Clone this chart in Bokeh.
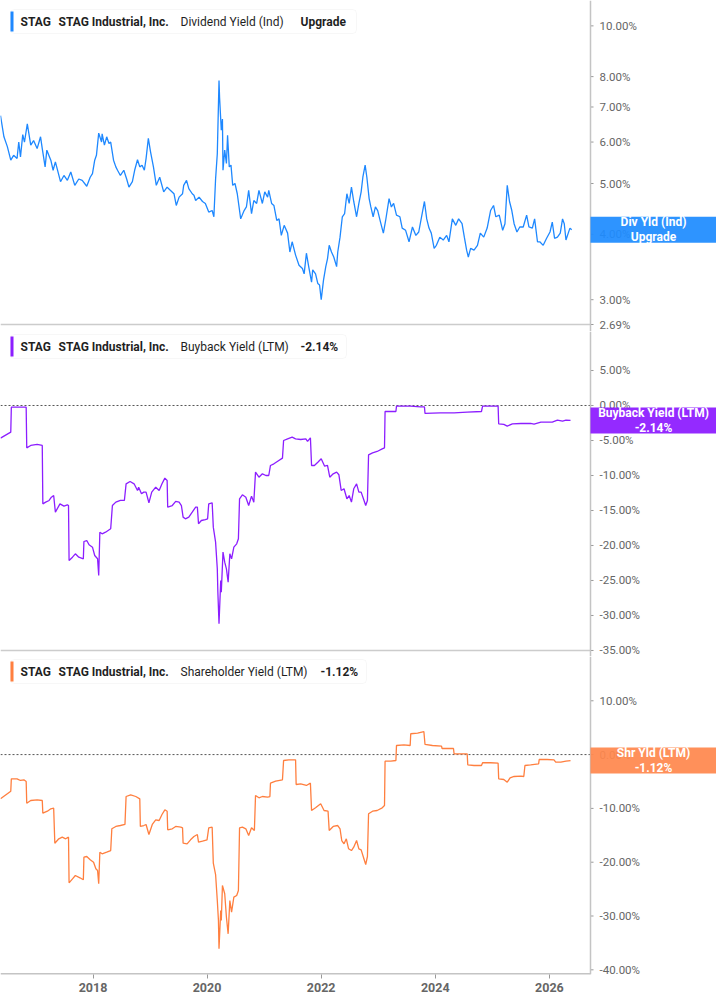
import math
from datetime import datetime, timedelta

from bokeh.core.properties import value
from bokeh.embed import file_html
from bokeh.layouts import column
from bokeh.models import (BoxAnnotation, DatetimeTickFormatter, FixedTicker, Label,
                          Range1d, Span)
from bokeh.plotting import figure
from bokeh.resources import INLINE

# --- data (decimal years, values in %) ---------------------------------------
div_years = [
    2016.38, 2016.44, 2016.50, 2016.56, 2016.61, 2016.67, 2016.70, 2016.73, 2016.77, 2016.80,
    2016.85, 2016.91, 2016.96, 2017.02, 2017.08, 2017.11, 2017.16, 2017.19, 2017.26, 2017.30,
    2017.34, 2017.43, 2017.49, 2017.55, 2017.61, 2017.68, 2017.75, 2017.81, 2017.89, 2017.95,
    2017.99, 2018.03, 2018.06, 2018.10, 2018.15, 2018.16, 2018.20, 2018.24, 2018.28, 2018.31,
    2018.36, 2018.40, 2018.43, 2018.48, 2018.54, 2018.59, 2018.63, 2018.69, 2018.73, 2018.78,
    2018.82, 2018.86, 2018.90, 2018.93, 2018.97, 2019.01, 2019.06, 2019.11, 2019.17, 2019.24,
    2019.30, 2019.36, 2019.42, 2019.46, 2019.51, 2019.57, 2019.59, 2019.64, 2019.68, 2019.74,
    2019.77, 2019.80, 2019.86, 2019.92, 2019.97, 2020.03, 2020.09, 2020.12, 2020.15, 2020.18,
    2020.21, 2020.22, 2020.25, 2020.27, 2020.28, 2020.31, 2020.34, 2020.36, 2020.39, 2020.42,
    2020.45, 2020.49, 2020.53, 2020.59, 2020.65, 2020.69, 2020.73, 2020.78, 2020.82, 2020.87,
    2020.91, 2020.97, 2021.01, 2021.06, 2021.08, 2021.13, 2021.17, 2021.22, 2021.26, 2021.30,
    2021.35, 2021.41, 2021.45, 2021.49, 2021.55, 2021.61, 2021.67, 2021.70, 2021.74, 2021.78,
    2021.83, 2021.85, 2021.90, 2021.94, 2021.97, 2022.00, 2022.04, 2022.08, 2022.11, 2022.14,
    2022.18, 2022.22, 2022.27, 2022.29, 2022.33, 2022.37, 2022.41, 2022.45, 2022.49, 2022.53,
    2022.57, 2022.62, 2022.66, 2022.70, 2022.73, 2022.77, 2022.80, 2022.84, 2022.87, 2022.91,
    2022.95, 2022.99, 2023.04, 2023.09, 2023.13, 2023.19, 2023.23, 2023.27, 2023.32, 2023.38,
    2023.42, 2023.48, 2023.54, 2023.60, 2023.66, 2023.71, 2023.77, 2023.81, 2023.85, 2023.89,
    2023.93, 2023.98, 2024.02, 2024.08, 2024.14, 2024.20, 2024.24, 2024.30, 2024.36, 2024.41,
    2024.47, 2024.51, 2024.55, 2024.58, 2024.62, 2024.68, 2024.74, 2024.79, 2024.85, 2024.91,
    2024.97, 2025.02, 2025.06, 2025.12, 2025.18, 2025.22, 2025.26, 2025.30, 2025.34, 2025.38,
    2025.43, 2025.48, 2025.54, 2025.60, 2025.64, 2025.70, 2025.74, 2025.79, 2025.83, 2025.89,
    2025.95, 2026.01, 2026.05, 2026.09, 2026.14, 2026.19, 2026.23, 2026.26, 2026.29, 2026.33,
    2026.36, 2026.39]
div_vals = [
    6.74, 6.14, 5.88, 5.54, 5.66, 5.58, 6.00, 5.62, 6.20, 6.00,
    6.50, 5.92, 6.04, 5.83, 6.14, 5.83, 5.38, 5.79, 5.54, 5.30,
    5.50, 5.04, 5.18, 5.07, 5.26, 4.96, 5.10, 5.07, 4.94, 5.14,
    5.22, 5.54, 5.66, 6.24, 6.00, 6.22, 5.92, 6.14, 5.96, 6.00,
    5.54, 5.38, 5.30, 5.18, 5.30, 5.10, 4.92, 5.04, 5.30, 5.55,
    5.38, 5.42, 5.30, 5.58, 6.10, 5.74, 5.38, 4.96, 5.14, 4.82,
    4.92, 4.85, 4.78, 4.54, 4.71, 4.78, 4.96, 5.07, 4.89, 4.78,
    4.75, 4.64, 4.71, 4.62, 4.58, 4.41, 4.44, 4.32, 5.10, 5.70,
    7.86, 7.30, 6.32, 6.64, 5.30, 5.79, 5.46, 6.18, 5.38, 5.42,
    4.96, 5.00, 4.78, 4.28, 4.44, 4.51, 4.85, 4.38, 4.64, 4.58,
    4.85, 4.58, 4.82, 4.71, 4.85, 4.58, 4.54, 4.25, 4.28, 3.98,
    4.16, 4.02, 3.70, 3.87, 3.65, 3.49, 3.44, 3.36, 3.68, 3.47,
    3.24, 3.42, 3.36, 3.22, 3.20, 3.00, 3.27, 3.47, 3.59, 3.81,
    3.70, 3.62, 3.47, 3.70, 3.95, 4.32, 4.38, 4.78, 4.58, 4.92,
    4.62, 4.32, 4.58, 4.82, 5.14, 5.42, 5.14, 4.68, 4.51, 4.32,
    4.51, 4.44, 4.22, 4.02, 4.25, 4.68, 4.51, 4.58, 4.35, 4.32,
    4.11, 4.07, 3.87, 4.13, 3.98, 4.04, 4.38, 4.62, 4.28, 4.11,
    4.02, 3.76, 3.81, 3.95, 3.90, 3.98, 3.87, 4.28, 4.16, 4.28,
    4.19, 3.95, 3.73, 3.62, 3.76, 3.73, 3.81, 4.02, 3.95, 4.11,
    4.44, 4.54, 4.32, 4.35, 4.07, 4.19, 4.96, 4.62, 4.44, 4.19,
    4.04, 4.13, 4.13, 4.35, 4.13, 4.11, 4.28, 3.87, 3.87, 3.81,
    3.93, 4.04, 4.22, 3.93, 3.95, 4.02, 4.28, 4.19, 3.90, 4.02,
    4.11, 4.08]

bb_years = [
    2016.38, 2016.56, 2016.57, 2016.83, 2016.84, 2016.91, 2017.02, 2017.11, 2017.12, 2017.17,
    2017.23, 2017.27, 2017.31, 2017.34, 2017.42, 2017.49, 2017.55, 2017.57, 2017.58, 2017.64,
    2017.69, 2017.75, 2017.83, 2017.84, 2017.89, 2017.93, 2017.99, 2018.03, 2018.08, 2018.10,
    2018.12, 2018.16, 2018.22, 2018.31, 2018.34, 2018.40, 2018.48, 2018.55, 2018.58, 2018.65,
    2018.72, 2018.78, 2018.80, 2018.85, 2018.89, 2018.93, 2018.98, 2019.03, 2019.10, 2019.16,
    2019.21, 2019.26, 2019.30, 2019.31, 2019.39, 2019.45, 2019.51, 2019.55, 2019.58, 2019.62,
    2019.68, 2019.74, 2019.80, 2019.83, 2019.85, 2019.90, 2019.97, 2020.01, 2020.03, 2020.09,
    2020.11, 2020.15, 2020.18, 2020.19, 2020.21, 2020.24, 2020.25, 2020.28, 2020.31, 2020.34,
    2020.37, 2020.40, 2020.43, 2020.47, 2020.52, 2020.55, 2020.57, 2020.62, 2020.68, 2020.73,
    2020.78, 2020.82, 2020.85, 2020.91, 2020.97, 2021.03, 2021.08, 2021.11, 2021.17, 2021.23,
    2021.32, 2021.34, 2021.41, 2021.49, 2021.55, 2021.64, 2021.73, 2021.76, 2021.81, 2021.83,
    2021.88, 2021.94, 2022.00, 2022.06, 2022.11, 2022.15, 2022.21, 2022.27, 2022.31, 2022.35,
    2022.40, 2022.45, 2022.49, 2022.53, 2022.57, 2022.62, 2022.66, 2022.70, 2022.74, 2022.78,
    2022.81, 2022.83, 2022.90, 2022.98, 2023.07, 2023.11, 2023.12, 2023.22, 2023.31, 2023.32,
    2023.57, 2023.74, 2023.81, 2023.82, 2024.09, 2024.33, 2024.56, 2024.81, 2024.83, 2025.10,
    2025.11, 2025.20, 2025.26, 2025.35, 2025.50, 2025.67, 2025.73, 2025.85, 2026.05, 2026.14,
    2026.23, 2026.29, 2026.37]
bb_vals = [
    -4.67, -3.81, -0.24, -0.24, -6.05, -5.71, -5.57, -5.71, -14.05, -13.80,
    -13.57, -13.10, -12.86, -15.24, -14.05, -14.38, -14.19, -14.29, -22.14, -21.67,
    -21.19, -21.67, -21.90, -19.43, -19.29, -19.90, -20.24, -21.43, -21.90, -24.29,
    -18.10, -18.33, -18.10, -17.62, -14.29, -13.81, -13.57, -13.57, -11.19, -10.86,
    -11.19, -12.14, -11.67, -12.62, -12.38, -12.38, -13.90, -12.38, -11.67, -12.14,
    -11.19, -10.38, -10.71, -14.52, -14.29, -13.71, -13.81, -14.29, -15.95, -16.19,
    -15.95, -15.24, -14.52, -14.52, -16.90, -16.43, -16.29, -16.19, -14.05, -13.90,
    -17.38, -19.52, -23.33, -26.67, -31.19, -25.00, -26.67, -20.95, -22.38, -23.33,
    -25.24, -21.19, -21.90, -20.24, -19.76, -19.05, -13.33, -12.76, -13.10, -14.29,
    -12.95, -13.81, -9.52, -10.24, -9.76, -10.00, -10.00, -8.57, -8.33, -8.00,
    -7.52, -5.00, -4.76, -4.52, -4.76, -4.86, -4.76, -5.14, -4.62, -8.57,
    -8.57, -8.10, -7.62, -8.67, -8.57, -10.24, -9.76, -9.52, -9.90, -12.14,
    -11.90, -13.33, -12.86, -13.81, -11.90, -11.19, -12.38, -12.38, -13.33, -14.29,
    -13.57, -7.05, -6.76, -6.57, -6.19, -6.05, -0.86, -0.86, -0.86, -0.10,
    -0.10, -0.19, -0.19, -1.14, -1.05, -1.05, -0.95, -0.86, -0.10, -0.10,
    -2.62, -2.71, -2.95, -2.62, -2.57, -2.57, -2.67, -2.38, -2.38, -2.10,
    -2.24, -2.10, -2.14]

sh_years = [
    2016.38, 2016.56, 2016.57, 2016.67, 2016.73, 2016.79, 2016.83, 2016.84, 2016.91, 2017.02,
    2017.11, 2017.12, 2017.20, 2017.26, 2017.31, 2017.33, 2017.40, 2017.46, 2017.52, 2017.57,
    2017.58, 2017.64, 2017.69, 2017.77, 2017.83, 2017.84, 2017.89, 2017.95, 2018.01, 2018.05,
    2018.08, 2018.10, 2018.12, 2018.16, 2018.24, 2018.31, 2018.33, 2018.40, 2018.48, 2018.56,
    2018.58, 2018.66, 2018.75, 2018.82, 2018.83, 2018.89, 2018.93, 2018.98, 2019.04, 2019.10,
    2019.16, 2019.21, 2019.26, 2019.30, 2019.31, 2019.39, 2019.45, 2019.54, 2019.57, 2019.58,
    2019.65, 2019.71, 2019.77, 2019.83, 2019.85, 2019.92, 2020.00, 2020.03, 2020.09, 2020.11,
    2020.15, 2020.18, 2020.20, 2020.21, 2020.24, 2020.25, 2020.27, 2020.31, 2020.34, 2020.37,
    2020.40, 2020.43, 2020.47, 2020.52, 2020.55, 2020.57, 2020.62, 2020.68, 2020.73, 2020.78,
    2020.83, 2020.85, 2020.91, 2020.97, 2021.06, 2021.10, 2021.11, 2021.20, 2021.32, 2021.34,
    2021.43, 2021.55, 2021.56, 2021.64, 2021.74, 2021.81, 2021.83, 2021.90, 2021.99, 2022.05,
    2022.12, 2022.14, 2022.21, 2022.29, 2022.33, 2022.36, 2022.40, 2022.44, 2022.48, 2022.53,
    2022.57, 2022.62, 2022.66, 2022.70, 2022.74, 2022.78, 2022.81, 2022.83, 2022.90, 2022.98,
    2023.07, 2023.11, 2023.12, 2023.22, 2023.31, 2023.32, 2023.45, 2023.56, 2023.57, 2023.69,
    2023.80, 2023.82, 2023.95, 2024.11, 2024.12, 2024.32, 2024.33, 2024.56, 2024.57, 2024.68,
    2024.81, 2024.83, 2024.97, 2025.10, 2025.11, 2025.20, 2025.26, 2025.31, 2025.38, 2025.50,
    2025.55, 2025.57, 2025.67, 2025.81, 2025.82, 2025.96, 2026.08, 2026.11, 2026.20, 2026.29,
    2026.37]
sh_vals = [
    -8.22, -6.80, -4.50, -4.50, -4.81, -4.69, -5.00, -9.03, -8.53, -8.40,
    -8.53, -10.89, -10.52, -10.07, -9.96, -16.47, -15.65, -15.35, -15.65, -15.35,
    -23.83, -23.09, -22.47, -22.90, -23.27, -19.07, -18.94, -19.55, -20.00, -21.23,
    -21.54, -24.01, -18.14, -18.44, -18.14, -17.83, -13.79, -13.36, -13.18, -12.99,
    -7.79, -7.47, -7.79, -8.22, -13.36, -13.18, -12.99, -14.85, -12.99, -12.12,
    -12.25, -11.13, -10.26, -10.52, -13.98, -13.79, -13.36, -13.49, -13.61, -16.47,
    -16.58, -15.84, -15.22, -14.85, -16.28, -16.10, -15.84, -13.61, -13.49, -20.19,
    -22.29, -27.12, -30.84, -36.10, -28.98, -30.84, -24.33, -25.87, -30.22, -33.31,
    -27.12, -29.29, -26.50, -26.19, -25.26, -13.61, -13.49, -13.79, -15.04, -13.61,
    -14.10, -7.60, -8.03, -7.79, -7.92, -7.79, -5.31, -4.94, -4.69, -1.10,
    -0.97, -0.97, -5.56, -5.43, -5.74, -5.31, -10.39, -9.89, -9.15, -10.39,
    -10.52, -14.10, -13.36, -13.18, -13.79, -15.97, -16.58, -15.65, -17.51, -17.83,
    -17.21, -15.97, -17.51, -17.70, -19.07, -20.43, -18.94, -11.00, -10.52, -10.39,
    -9.89, -9.46, -1.23, -1.23, -1.10, 1.69, 1.82, 1.69, 3.87, 3.98,
    4.29, 1.88, 1.69, 1.56, 1.13, 1.13, 0.15, 0.15, -1.90, -2.03,
    -2.03, -1.52, -1.52, -1.60, -4.50, -4.63, -5.13, -4.31, -4.07, -4.01,
    -4.07, -2.03, -1.90, -1.71, -0.91, -0.91, -0.97, -1.41, -1.41, -1.23,
    -1.12]

div_ticks = [2.69, 3, 4, 5, 6, 7, 8, 10]
bb_ticks = [-35, -30, -25, -20, -15, -10, -5, 0, 5]
sh_ticks = [-40, -30, -20, -10, 0, 10]
year_ticks = [2018, 2020, 2022, 2024, 2026]

# --- layout constants ----------------------------------------------------------
FONT = "Roboto"
W = 716            # canvas width; the frame covers it, the right part holds the value scale
DATA_W = 590       # plotting area left of the value scale
RIGHT_W = W - DATA_W
BLUE, PURPLE, ORANGE = "#1e88ff", "#8c1eff", "#ff7f3f"
FLAG_BLUE, FLAG_PURPLE, FLAG_ORANGE = "#1e8cff", "#8c1aff", "#ff884d"
EPOCH = datetime(1970, 1, 1)


def to_dt(y):
    base = datetime(int(y), 1, 1)
    return base + timedelta(days=(y - int(y)) * 365.25)


def ms(d):
    return (d - EPOCH).total_seconds() * 1000.0


x_start = to_dt(2016.38)
AXIS_X = to_dt(2026.72)
x_end = x_start + (AXIS_X - x_start) * (W / DATA_W)
x_range = Range1d(x_start, x_end)


class Panel:
    def __init__(self, lo, hi, log, height, axis_below=False):
        self.lo, self.hi, self.log, self.h = lo, hi, log, height
        self.p = figure(frame_width=W, frame_height=height, x_range=x_range,
                        y_range=Range1d(lo, hi), x_axis_type="datetime",
                        y_axis_type="log" if log else "linear", y_axis_location=None,
                        x_axis_location="below" if axis_below else None,
                        output_backend="svg", toolbar_location=None,
                        min_border_left=0, min_border_top=0, min_border_right=0,
                        min_border_bottom=30 if axis_below else 0)
        self.p.outline_line_color = None
        self.p.xgrid.visible = False
        self.p.ygrid.visible = False

    def shift(self, v, px):
        # value sitting px pixels above v on this panel's scale
        if self.log:
            a, b = math.log10(self.lo), math.log10(self.hi)
            return 10 ** (math.log10(v) + px * (b - a) / self.h)
        return v + px * (self.hi - self.lo) / self.h

    def value_scale(self, ticks, base, base_color="#cccccc", base_width=1.5):
        p = self.p
        p.segment(x0=[x_start], y0=[base], x1=[AXIS_X], y1=[base], line_color=base_color,
                  line_width=base_width)
        p.add_layout(Span(location=ms(AXIS_X), dimension="height", line_color="#c4c4c4",
                          line_width=1.5))
        xs = [AXIS_X] * len(ticks)
        p.ray(x=xs, y=ticks, length=3, length_units="screen", angle=0,
              line_color="#999999", line_width=1)
        p.text(x=xs, y=ticks, text=["%.2f%%" % t for t in ticks], x_offset=9,
               text_baseline="middle", text_font=value(FONT), text_font_size="11.5px",
               text_color="#666666")

    def zero_line(self):
        self.p.segment(x0=[x_start], y0=[0], x1=[AXIS_X], y1=[0], line_color="#555555",
                       line_width=1, line_dash="2 2")

    def legend(self, color, metric, val_text, value_x, box_right, top_gap):
        p = self.p
        top = self.h - top_gap
        scr = dict(left_units="screen", right_units="screen", top_units="screen",
                   bottom_units="screen")
        p.add_layout(BoxAnnotation(left=10, right=box_right, top=top, bottom=top - 24,
                                   fill_color="white", fill_alpha=1, line_color="#e4e4e4",
                                   line_width=1, border_radius=4, **scr))
        p.add_layout(BoxAnnotation(left=10, right=13, top=top - 2, bottom=top - 22,
                                   fill_color=color, fill_alpha=1, line_color=None, **scr))
        parts = [(20, "STAG", "bold"), (58, "STAG Industrial, Inc.", "bold"),
                 (180, metric, "normal"), (value_x, val_text, "bold")]
        for x, txt, style in parts:
            p.add_layout(Label(x=x, y=top - 12, x_units="screen", y_units="screen",
                               text=txt, text_font=FONT, text_font_size="12px",
                               text_font_style=style, text_color="#1f1f1f",
                               text_baseline="middle"))

    def flag(self, color, text, v):
        p = self.p
        p.add_layout(BoxAnnotation(left=ms(AXIS_X), top=self.shift(v, 13),
                                   bottom=self.shift(v, -13), fill_color=color,
                                   fill_alpha=0.93, line_color=None))
        p.add_layout(Label(x=ms(AXIS_X), y=v, x_offset=RIGHT_W / 2, text=text,
                           text_align="center", text_baseline="middle", text_font=FONT,
                           text_font_size="12px", text_font_style="bold",
                           text_color="white", text_line_height=1.1))


# --- panel 1: dividend yield (log); 2.69% sits 7px above the frame bottom -------------
per_px = (math.log10(11.18) - math.log10(2.69)) / 324
pan1 = Panel(10 ** (math.log10(2.69) - 7 * per_px), 11.18, True, 331)
pan1.value_scale(div_ticks, 2.69)
pan1.p.line([to_dt(y) for y in div_years], div_vals, line_color=BLUE, line_width=1.3)
pan1.legend(BLUE, "Dividend Yield (Ind)", "Upgrade", 300, 356, 9)
pan1.flag(FLAG_BLUE, "Div Yld (Ind)\nUpgrade", div_vals[-1])

# --- panel 2: buyback yield ------------------------------------------------------------
pan2 = Panel(-35.86, 10.57, False, 325)
pan2.value_scale(bb_ticks, -35)
pan2.zero_line()
pan2.p.line([to_dt(y) for y in bb_years], bb_vals, line_color=PURPLE, line_width=1.3)
pan2.legend(PURPLE, "Buyback Yield (LTM)", "-2.14%", 300, 346, 3)
pan2.flag(FLAG_PURPLE, "Buyback Yield (LTM)\n-2.14%", bb_vals[-1])

# --- panel 3: shareholder yield ----------------------------------------------------------
pan3 = Panel(-40.87, 18.23, False, 318, axis_below=True)
pan3.value_scale(sh_ticks, -40.87, base_color="#c4c4c4", base_width=3)
pan3.zero_line()
pan3.p.line([to_dt(y) for y in sh_years], sh_vals, line_color=ORANGE, line_width=1.3)
pan3.legend(ORANGE, "Shareholder Yield (LTM)", "-1.12%", 320, 366, 3)
pan3.flag(FLAG_ORANGE, "Shr Yld (LTM)\n-1.12%", sh_vals[-1])

xa = pan3.p.xaxis[0]
xa.ticker = FixedTicker(ticks=[ms(datetime(y, 1, 1)) for y in year_ticks])
xa.formatter = DatetimeTickFormatter(years="%Y", months="%Y", days="%Y")
xa.major_label_text_font = FONT
xa.major_label_text_font_style = "bold"
xa.major_label_text_font_size = "12.5px"
xa.major_label_text_color = "#666666"
xa.axis_line_color = None
xa.major_tick_line_color = "#999999"
xa.major_tick_out = 4
xa.major_tick_in = 0
xa.minor_tick_line_color = None
xa.major_label_standoff = 4

layout = column(pan1.p, pan2.p, pan3.p, spacing=0)
open("out.html", "w").write(file_html(layout, INLINE))
